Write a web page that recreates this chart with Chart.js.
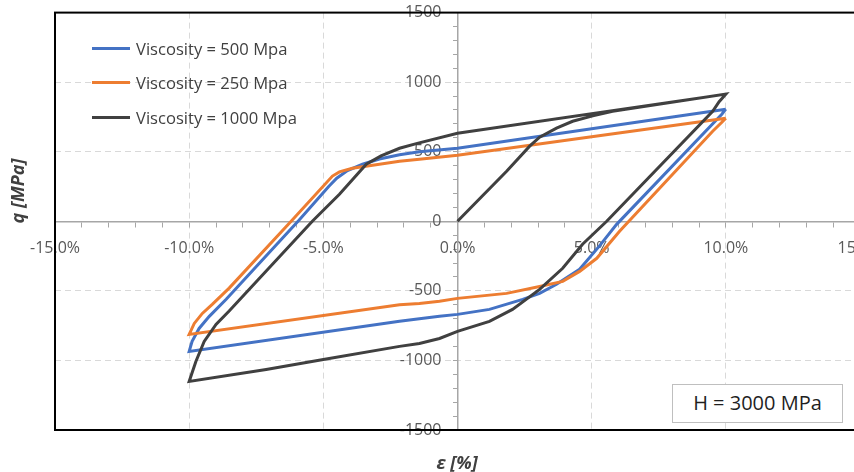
<!DOCTYPE html>
<html>
<head>
<meta charset="utf-8">
<script src="https://cdn.jsdelivr.net/npm/chart.js@4.4.1/dist/chart.umd.min.js"></script>
<style>
  body { margin: 0; background: #fff; }
  #wrap { position: relative; width: 854px; height: 472px; overflow: hidden; font-family: "Open Sans", sans-serif; }
  #chart { position: absolute; left: 0; top: 0; }
  .legendRow { position: absolute; left: 92px; height: 24px; display: flex; align-items: center; color: #404040; font-size: 16.6px; white-space: nowrap; }
  .legendRow span.line { display: inline-block; width: 38px; height: 3px; margin-right: 6px; }
  .axisTitle { position: absolute; font-weight: bold; font-style: italic; font-size: 18px; color: #404040; text-align: center; line-height: 22px; white-space: nowrap; }
  #ytitle { left: -33px; top: 180px; width: 100px; transform: rotate(-90deg); }
  #xtitle { left: 407px; top: 451px; width: 100px; }
  #note { position: absolute; left: 672px; top: 384px; width: 171px; height: 39px; box-sizing: border-box; border: 1.5px solid #bfbfbf; background: #fff; font-size: 20px; color: #1f1f1f; text-align: center; line-height: 36px; }
</style>
</head>
<body>
<div id="wrap">
  <canvas id="chart" width="900" height="472"></canvas>
  <div id="legend"></div>
  <div class="axisTitle" id="ytitle">q [MPa]</div>
  <div class="axisTitle" id="xtitle">ε [%]</div>
  <div id="note">H = 3000 MPa</div>
</div>
<script>

// ---- data (strain in %, q in MPa) ----
const seriesNames = ["Viscosity = 500 Mpa", "Viscosity = 250 Mpa", "Viscosity = 1000 Mpa"];
const seriesColors = ["#4472c4", "#ed7d31", "#404040"];

const epsVisc500 = [10, 9.85, 5.93, 5.3, 4.55, 3.69, 3.06, 2.43, 1.19, 0, -0.67, -1.42, -2.16, -10,
                    -9.89, -9.63, -9.25, -8.62, -5.9, -4.8, -4.5, -4.1, -3.54, -2.91, -2.16, -1.42, 0, 10];
const qVisc500   = [806, 770, -22, -175, -345, -453, -518, -561, -633, -669, -683, -700, -719, -935,
                    -863, -770, -683, -560, 10, 250, 310, 365, 410, 448, 478, 500, 525, 806];

const epsVisc250 = [10, 9.89, 9.51, 6.04, 5.19, 4.55, 3.92, 3.06, 1.83, 0, -0.67, -1.42, -2.16, -10,
                    -9.81, -9.51, -9.14, -8.51, -6.2, -4.66, -4.4, -3.92, -2.91, -2.16, -1.42, 0, 10];
const qVisc250   = [741, 719, 647, -72, -266, -360, -432, -468, -518, -554, -575, -590, -600, -813,
                    -734, -662, -597, -480, 0, 325, 355, 381, 410, 432, 446, 475, 741];

const epsVisc1000 = [0, 1.83, 2.69, 3.06, 3.69, 4.29, 5.04, 5.78, 10, 9.75, 9.51, 5.56, 4.66, 3.92, 3.06, 2.05,
                     1.19, 0, -0.67, -1.42, -2.16, -5.0, -7.13, -10, -9.75, -9.44, -9.0, -8.51, -5.41, -4.4,
                     -3.4, -2.85, -2.16, -1.5, 0, 10];
const qVisc1000   = [0, 360, 540, 605, 669, 719, 758, 791, 914, 860, 791, 0, -165, -338, -489, -633,
                     -719, -791, -842, -878, -899, -993, -1065, -1151, -1007, -863, -741, -645, 0, 194,
                     410, 470, 525, 560, 633, 914];

function toPoints(xs, ys){
    return xs.map((x, i) => ({x: x, y: ys[i]}));
}

const seriesData = [
    toPoints(epsVisc500, qVisc500),
    toPoints(epsVisc250, qVisc250),
    toPoints(epsVisc1000, qVisc1000)
];

// black frame round the plot area, drawn over the tick labels like the original
const frame = {
    id: 'frame',
    afterDraw(chart){
        const {ctx, chartArea: a} = chart;
        ctx.save();
        ctx.strokeStyle = '#000';
        ctx.lineWidth = 2;
        ctx.strokeRect(a.left, a.top, a.right - a.left, a.bottom - a.top);
        ctx.restore();
    }
};

const tickFont = {family: "'Open Sans', sans-serif", size: 16};

var chart = new Chart(document.getElementById('chart'),
{
    type: 'scatter',
    data: {
        datasets: seriesNames.map((name, i) => ({
            label: name,
            data: seriesData[i],
            showLine: true,
            borderColor: seriesColors[i],
            backgroundColor: seriesColors[i],
            borderWidth: 3,
            pointRadius: 0,
            tension: 0,
            order: 3 - i
        }))
    },
    options: {
        responsive: false,
        animation: false,
        layout: { padding: {left: 55, top: 4, right: 40, bottom: 42} },
        plugins: { legend: {display: false}, tooltip: {enabled: false} },
        scales: {
            x: {
                type: 'linear',
                position: {y: 0},
                min: -15,
                max: 15,
                ticks: {
                    stepSize: 1,
                    autoSkip: false,
                    maxRotation: 0,
                    maxTicksLimit: 100,
                    padding: 13,
                    color: '#595959',
                    font: tickFont,
                    callback: v => (v % 5 === 0) ? v.toFixed(1) + '%' : ''
                },
                grid: {
                    color: c => (c.tick && c.tick.value % 5 === 0 && c.tick.value !== 0 && Math.abs(c.tick.value) !== 15) ? '#d9d9d9' : 'rgba(0,0,0,0)',
                    lineWidth: 1,
                    tickColor: '#a6a6a6',
                    tickLength: 5
                },
                border: {color: '#a6a6a6', width: 1.5, dash: [6, 4]}
            },
            y: {
                type: 'linear',
                position: {x: 0},
                min: -1500,
                max: 1500,
                ticks: {
                    stepSize: 100,
                    autoSkip: false,
                    maxTicksLimit: 100,
                    color: '#595959',
                    font: tickFont,
                    // centred axes ignore ticks.padding, so keep the gap with two en spaces
                    callback: v => (v % 500 === 0) ? String(v) + '\u2002\u2002' : ''
                },
                grid: {
                    color: c => (c.tick && c.tick.value % 500 === 0 && c.tick.value !== 0 && Math.abs(c.tick.value) !== 1500) ? '#d9d9d9' : 'rgba(0,0,0,0)',
                    lineWidth: 1,
                    tickColor: '#a6a6a6',
                    tickLength: 4
                },
                border: {color: '#a6a6a6', width: 1.5, dash: [6, 4]}
            }
        }
    },
    plugins: [frame]
});

// ---- html legend inside the plot, top left ----
const legendTops = [36, 70, 105];
seriesNames.forEach((name, i) => {
    let row = document.createElement('div');
    row.className = 'legendRow';
    row.style.top = legendTops[i] + 'px';
    row.innerHTML = '<span class="line" style="background:' + seriesColors[i] + '"></span>' + name;
    document.getElementById('legend').appendChild(row);
});

</script>
</body>
</html>
